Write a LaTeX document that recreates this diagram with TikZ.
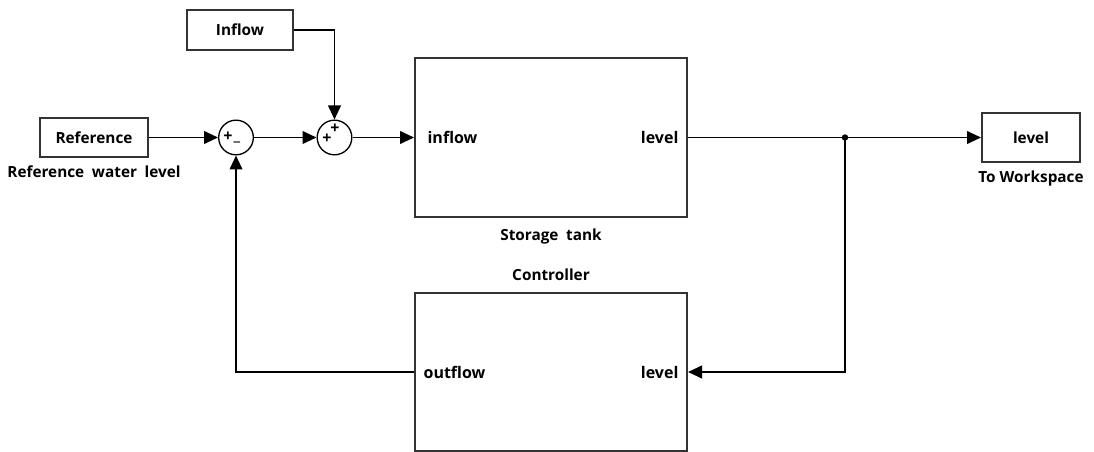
\documentclass[tikz,border=0pt]{standalone}
\usepackage{fontspec}
\setmainfont{Open Sans}
\usetikzlibrary{positioning,arrows.meta}

\begin{document}
\begin{tikzpicture}[
  x=0.75pt, y=-0.75pt,
  blk/.style={draw, line width=1.5pt, draw=black!80, fill=white, inner sep=0pt, font=\fontsize{11.5}{13}\selectfont\bfseries},
  sumnode/.style={draw, circle, line width=1pt, minimum size=26pt, inner sep=0pt},
  sgn/.style={font=\fontsize{12}{12}\selectfont\bfseries, inner sep=0pt},
  port/.style={font=\fontsize{12}{14}\selectfont\bfseries, inner sep=0pt},
  lab/.style={font=\fontsize{11.5}{13}\selectfont\bfseries, inner sep=0pt},
  arr/.style={-{Triangle[length=10.5pt,width=9.5pt]}, line width=1.4pt},
  wire/.style={line width=1.4pt}
]
\useasboundingbox (0,0) rectangle (1094,452);
% sources and sums
\node[blk, minimum width=81pt, minimum height=29.25pt] (ref) at (94,137.5) {Reference};
\node[lab, below=6pt of ref] (reflab) {Reference\enspace water\enspace level};
\node[blk, minimum width=79.5pt, minimum height=30pt] (inflowsrc) at (240,30) {Inflow};
\node[sumnode] (sum1) at (236,137.5) {};
\node[sumnode] (sum2) at (334.5,137.5) {};
\node[sgn] (s1a) at (228,137) {+};
\node[sgn] (s1b) at (237,142) {\_};
\node[sgn] (s2a) at (327,139) {+};
\node[sgn] (s2b) at (335,129) {+};
% subsystems
\node[blk, minimum width=204pt, minimum height=119.25pt] (tank) at (551,137.5) {};
\node[port, anchor=west] (tankin) at ([xshift=10pt]tank.west) {inflow};
\node[port, anchor=east] (tankout) at ([xshift=-7pt]tank.east) {level};
\node[lab, below=8pt of tank] (tanklab) {Storage\enspace tank};
\node[blk, minimum width=204pt, minimum height=118.5pt] (ctrl) at (551,372) {};
\node[port, anchor=west] (ctrlout) at ([xshift=7pt]ctrl.west) {outflow};
\node[port, anchor=east] (ctrlin) at ([xshift=-7pt]ctrl.east) {level};
\node[lab, above=8pt of ctrl] (ctrllab) {Controller};
% sink
\node[blk, minimum width=73.5pt, minimum height=36.75pt] (tows) at (1031,137.5) {level};
\node[lab, below=6pt of tows] (towslab) {To Workspace};
\coordinate (split) at (845,137.5);
% signals
\draw[arr] (ref) -- (sum1);
\draw[arr] (sum1) -- (sum2);
\draw[arr] (sum2) -- (tank);
\draw[arr] (inflowsrc) -| (sum2);
\draw[wire] (tank) -- (split);
\draw[arr] (split) -- (tows);
\draw[arr] (split) |- (ctrl.east);
\draw[arr] (ctrl) -| (sum1);
\fill (split) circle (2.4pt);
\end{tikzpicture}
\end{document}
